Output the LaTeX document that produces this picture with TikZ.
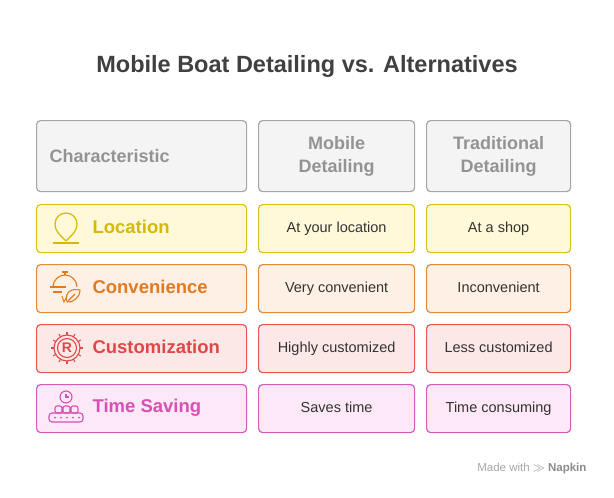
\documentclass[tikz,border=0pt]{standalone}
\usepackage{fontspec}
\setmainfont{Liberation Sans}
\newcommand{\cstrut}{\rule[-2.5pt]{0pt}{13pt}}
\newcommand{\lstrut}{\rule[-3pt]{0pt}{16.2pt}}
\begin{document}
\begin{tikzpicture}[x=1pt,y=-1pt,
  hdr/.style={draw=gray!70, line width=1.2pt, rounded corners=4pt, fill=gray!9, anchor=north west, inner sep=0pt, text=gray!85, font=\fontsize{18}{23}\selectfont\bfseries, align=center},
  txt/.style={font=\fontsize{14.5}{15}\selectfont, text=black!80},
  lab/.style={font=\fontsize{18.5}{19}\selectfont\bfseries, anchor=west}]
\useasboundingbox (0,0) rectangle (614,498);
\definecolor{cy}{HTML}{D9C21A}\definecolor{fy}{HTML}{FFF9D9}\definecolor{ty}{HTML}{D4B80A}
\definecolor{co}{HTML}{E08A3A}\definecolor{fo}{HTML}{FEF0E5}\definecolor{to}{HTML}{E07B22}
\definecolor{cr}{HTML}{E65858}\definecolor{fr}{HTML}{FDE8E8}\definecolor{tr}{HTML}{E04848}
\definecolor{cp}{HTML}{D65CBA}\definecolor{fp}{HTML}{FCE8F6}\definecolor{tp}{HTML}{D94FB5}
\tikzset{c/.style 2 args={draw=#1, fill=#2, line width=1.2pt, rounded corners=4pt, anchor=north west, inner sep=0pt}}
\node[font=\fontsize{23.5}{26}\selectfont\bfseries, text=black!75] (title) at (307,66) {Mobile Boat Detailing vs. Alternatives};
\node[hdr, minimum width=210pt, minimum height=71pt, text width=200pt, align=left] (h1) at (36,120) {\hspace*{8pt}Characteristic};
\node[hdr, minimum width=156pt, minimum height=71pt, text width=150pt] (h2) at (258,120) {Mobile\\Detailing};
\node[hdr, minimum width=144pt, minimum height=71pt, text width=140pt] (h3) at (426,120) {Traditional\\Detailing};
\foreach \y/\b/\f/\t/\l/\m/\r [count=\i] in {204/cy/fy/ty/Location/At your location/At a shop,264/co/fo/to/Convenience/Very convenient/Inconvenient,324/cr/fr/tr/Customization/Highly customized/Less customized,384/cp/fp/tp/Time Saving/Saves time/Time consuming}{
  \node[c={\b}{\f}, minimum width=210pt, minimum height=48pt] (a\i) at (36,\y) {};
  \node[lab, text=\t] (l\i) at (89,\y+24) {\lstrut\l};
  \node[c={\b}{\f}, minimum width=156pt, minimum height=48pt, txt] (m\i) at (258,\y) {\cstrut\m};
  \node[c={\b}{\f}, minimum width=144pt, minimum height=48pt, txt] (r\i) at (426,\y) {\cstrut\r};
}
% icons
\begin{scope}[draw=ty, line width=1.2pt]
\draw (66,241) .. controls (59,234) and (55,231) .. (55,224) arc (180:360:11) .. controls (77,231) and (73,234) .. (66,241);
\draw (53,243) -- (79,243);
\end{scope}
\begin{scope}[draw=to, line width=1.1pt]
\draw (53,287) arc (180:360:12); \draw (65,275) -- (65,272); \draw (62,272)--(68,272);
\draw (50,287) -- (66,287); \draw (53,292) -- (62,292);
\draw (62,296) -- (64,302) -- (67,296);
\draw (67,302) .. controls (64,292) and (72,288) .. (80,290) .. controls (80,298) and (72,303) .. (67,302);
\draw (68,301) -- (75,294);
\end{scope}
\begin{scope}[draw=tr, line width=1.1pt]
\draw (67,348) circle (9.5);
\foreach \a in {0,30,...,330} \draw (67,348) ++(\a:13) -- ++(\a:3);
\draw (67,348) circle (13);
\node[text=tr, font=\fontsize{14}{14}\selectfont\bfseries] (R) at (67,348) {R};
\end{scope}
\begin{scope}[draw=tp, line width=1.1pt]
\draw (66,397) circle (6); \draw (66,394) -- (66,397) -- (69,397);
\draw[rounded corners=2pt] (55,406) rectangle (62,413) (63,406) rectangle (70,413) (71,406) rectangle (78,413);
\draw[rounded corners=3pt] (49,413) rectangle (83,422);
\foreach \x in {55,61,67,73,79} \fill[tp] (\x,417.5) circle (1);
\end{scope}
\node[font=\fontsize{11.5}{12}\selectfont, text=gray!70, anchor=east] (ft) at (590,469) {Made with \textbf{\textcolor{gray!90}{$\gg$ Napkin}}};
\end{tikzpicture}
\end{document}
